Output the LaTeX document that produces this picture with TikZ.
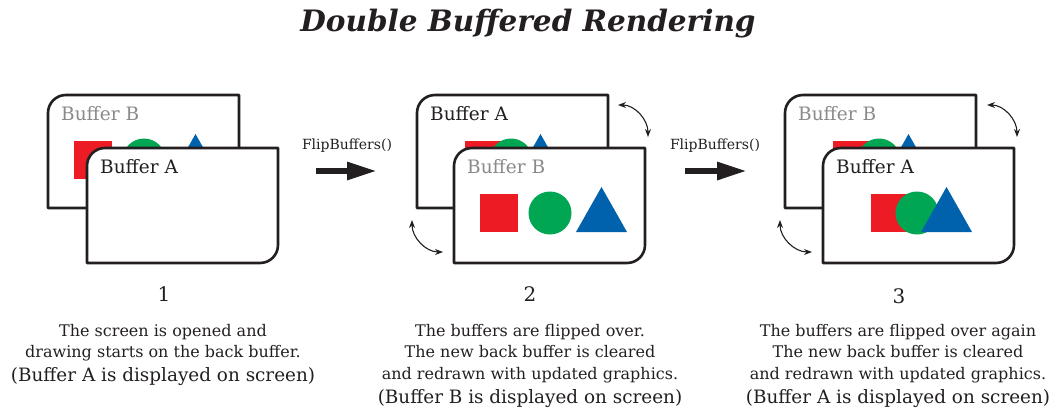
\documentclass[tikz,border=0pt]{standalone}
\usepackage{fontspec}
\setmainfont{DejaVu Serif}
\usetikzlibrary{arrows.meta}

\definecolor{frameline}{HTML}{231F20}
\definecolor{bufred}{HTML}{ED1C24}
\definecolor{bufgreen}{HTML}{00A651}
\definecolor{bufblue}{HTML}{0062AD}
\definecolor{bufgray}{HTML}{8A8A8A}

\begin{document}
\begin{tikzpicture}[x=1pt,y=-1pt,
    every node/.style={inner sep=0pt,text=frameline},
    bufframe/.style={draw=frameline,line width=2.6pt,fill=white,line join=round},
    buflabel/.style={anchor=base west,font=\fontsize{18.5}{20}\selectfont},
    fliplabel/.style={font=\fontsize{14}{16}\selectfont},
    fliparrow/.style={draw=frameline,line width=6pt,-{Triangle[length=30pt,width=17pt]}},
    swaparrow/.style={draw=frameline,line width=1.1pt,{Stealth[length=8pt,width=6pt]}-{Stealth[length=8pt,width=6pt]}},
    stepnum/.style={font=\fontsize{20}{22}\selectfont},
    desc/.style={anchor=north,align=center,font=\fontsize{16}{21.5}\selectfont},
    note/.style={anchor=north,font=\fontsize{18.4}{21}\selectfont},
    backframe/.pic={\draw[bufframe] (0,113) -- (0,18) .. controls (0,8) and (8,0) .. (18,0) -- (191,0) -- (191,113) -- cycle;},
    frontframe/.pic={\draw[bufframe] (0,115) -- (0,18) .. controls (0,8) and (8,0) .. (18,0) -- (191,0) -- (191,97) .. controls (191,107) and (183,115) .. (173,115) -- cycle;},
    spreadset/.pic={
        \fill[bufred] (26,46) rectangle (64,84);
        \fill[bufgreen] (96,65) circle[radius=21.5];
        \fill[bufblue] (122,84) -- (173,84) -- (147.5,39) -- cycle;},
    overlapset/.pic={
        \fill[bufred] (48,46) rectangle (86,84);
        \fill[bufgreen] (94,65) circle[radius=21.5];
        \fill[bufblue] (98,84) -- (149,84) -- (123.5,39) -- cycle;}]
    \useasboundingbox (0,0) rectangle (1058,412);

    \node[font=\fontsize{29.5}{31}\selectfont\bfseries\itshape] (title) at (528,24) {Double Buffered Rendering};

    \pic at (48,95) {backframe};
    \pic at (48,95) {spreadset};
    \node[buflabel,text=bufgray] (back1) at (61,121) {Buffer B};
    \pic at (87,148) {frontframe};
    \node[buflabel] (front1) at (100,173) {Buffer A};

    \pic at (417,95) {backframe};
    \pic at (417,95) {overlapset};
    \node[buflabel] (back2) at (430,121) {Buffer A};
    \pic at (454,148) {frontframe};
    \pic at (454,148) {spreadset};
    \node[buflabel,text=bufgray] (front2) at (467,173) {Buffer B};

    \pic at (785,95) {backframe};
    \pic at (785,95) {overlapset};
    \node[buflabel,text=bufgray] (back3) at (798,121) {Buffer B};
    \pic at (823,148) {frontframe};
    \pic at (823,148) {overlapset};
    \node[buflabel] (front3) at (836,173) {Buffer A};

    \node[fliplabel] (flip1) at (347,146) {FlipBuffers()};
    \node[fliplabel] (flip2) at (715,146) {FlipBuffers()};
    \coordinate (f1s) at (316,171);
    \coordinate (f1e) at (377,171);
    \coordinate (f2s) at (685,171);
    \coordinate (f2e) at (747,171);
    \draw[fliparrow] (f1s) -- (f1e);
    \draw[fliparrow] (f2s) -- (f2e);

    \coordinate (s2a) at (618,105);
    \coordinate (s2b) at (648,137);
    \coordinate (s2c) at (412,220);
    \coordinate (s2d) at (443,252);
    \coordinate (s3a) at (987,105);
    \coordinate (s3b) at (1017,137);
    \coordinate (s3c) at (780,220);
    \coordinate (s3d) at (812,252);
    \draw[swaparrow] (s2a) to[out=0,in=90] (s2b);
    \draw[swaparrow] (s2c) to[out=270,in=180] (s2d);
    \draw[swaparrow] (s3a) to[out=0,in=90] (s3b);
    \draw[swaparrow] (s3c) to[out=270,in=180] (s3d);

    \node[stepnum] (num1) at (164,294) {1};
    \node[stepnum] (num2) at (530,294) {2};
    \node[stepnum] (num3) at (899,296) {3};

    \node[desc] (desc1) at (163,324) {The screen is opened and\\drawing starts on the back buffer.};
    \node[note] (note1) at (163,367) {(Buffer A is displayed on screen)};
    \node[desc] (desc2) at (530,324) {The buffers are flipped over.\\The new back buffer is cleared\\and redrawn with updated graphics.};
    \node[note] (note2) at (530,389) {(Buffer B is displayed on screen)};
    \node[desc] (desc3) at (898,324) {The buffers are flipped over again\\The new back buffer is cleared\\and redrawn with updated graphics.};
    \node[note] (note3) at (898,389) {(Buffer A is displayed on screen)};
\end{tikzpicture}
\end{document}
